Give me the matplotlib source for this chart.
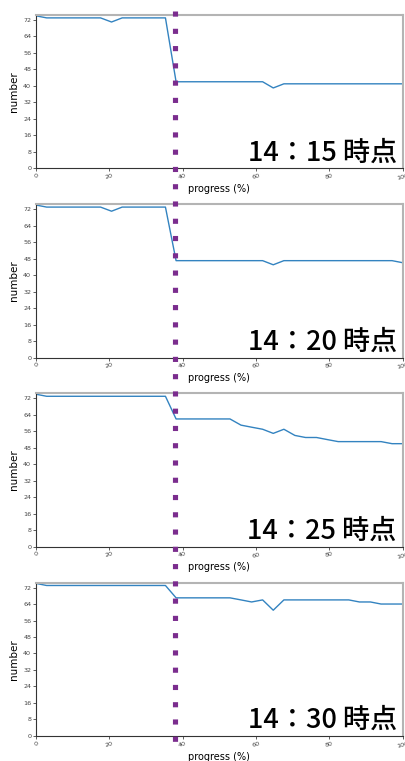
import matplotlib
matplotlib.use("Agg")
import matplotlib.pyplot as plt
from matplotlib.lines import Line2D
from matplotlib.transforms import blended_transform_factory

plt.rcParams["font.family"] = ["DejaVu Sans", "Noto Sans CJK JP"]

# progress (%) sample positions shared by every panel
progress = [0.0, 2.9, 5.9, 8.8, 11.8, 14.7, 17.6, 20.6, 23.5, 26.5, 29.4, 32.4,
            35.3, 38.2, 41.2, 44.1, 47.1, 50.0, 52.9, 55.9, 58.8, 61.8, 64.7,
            67.6, 70.6, 73.5, 76.5, 79.4, 82.4, 85.3, 88.2, 91.2, 94.1, 97.1, 100.0]

counts_1415 = [74, 73, 73, 73, 73, 73, 73, 71, 73, 73, 73, 73,
               73, 42, 42, 42, 42, 42, 42, 42, 42, 42, 39,
               41, 41, 41, 41, 41, 41, 41, 41, 41, 41, 41, 41]
counts_1420 = [74, 73, 73, 73, 73, 73, 73, 71, 73, 73, 73, 73,
               73, 47, 47, 47, 47, 47, 47, 47, 47, 47, 45,
               47, 47, 47, 47, 47, 47, 47, 47, 47, 47, 47, 46]
counts_1425 = [74, 73, 73, 73, 73, 73, 73, 73, 73, 73, 73, 73,
               73, 62, 62, 62, 62, 62, 62, 59, 58, 57, 55,
               57, 54, 53, 53, 52, 51, 51, 51, 51, 51, 50, 50]
counts_1430 = [74, 73, 73, 73, 73, 73, 73, 73, 73, 73, 73, 73,
               73, 67, 67, 67, 67, 67, 67, 66, 65, 66, 61,
               66, 66, 66, 66, 66, 66, 66, 65, 65, 64, 64, 64]

series = [counts_1415, counts_1420, counts_1425, counts_1430]
time_labels = ["14：15 時点", "14：20 時点", "14：25 時点", "14：30 時点"]
y_ticks = [0, 8, 16, 24, 32, 40, 48, 56, 64, 72]
x_ticks = [0, 20, 40, 60, 80, 100]
marker_progress = 38  # where the purple dotted line sits

W, H = 406, 761
fig = plt.figure(figsize=(W / 100, H / 100), dpi=100)

axes = []
for k, (counts, label) in enumerate(zip(series, time_labels)):
    top_px = 15 + 189.2 * k
    ax = fig.add_axes([36 / W, 1 - (top_px + 153.3) / H, 366.7 / W, 153.3 / H])
    ax.plot(progress, counts, color="#3383c0", lw=1.0)
    ax.set_xlim(0, 100)
    ax.set_ylim(0, 74.4)
    ax.set_xticks(x_ticks)
    ax.set_yticks(y_ticks)
    ax.tick_params(labelsize=4.6, length=2, width=0.6, pad=1.5, colors="#444444")
    for t in ax.get_xticklabels():
        t.set_rotation(15)
    ax.set_xlabel("progress (%)", fontsize=7, labelpad=2)
    ax.set_ylabel("number", fontsize=7.5, labelpad=3)
    for side in ("left", "bottom"):
        ax.spines[side].set_color("#333333")
        ax.spines[side].set_linewidth(0.8)
    for side in ("top", "right"):
        ax.spines[side].set_color("#b4b4b4")
        ax.spines[side].set_linewidth(1.5)
    ax.text(0.984, 0.05, label, transform=ax.transAxes, ha="right",
            va="baseline", fontsize=19.5, fontweight="medium",
            family=["Noto Sans CJK JP"], color="black")
    axes.append(ax)

# purple dotted marker running through all panels
trans = blended_transform_factory(axes[0].transData, fig.transFigure)
vline = Line2D([marker_progress, marker_progress], [1 - 10.8 / H, 1 - 752.5 / H],
               transform=trans, color="#7b2d8e", lw=3.7,
               linestyle=(0, (1, 2.36)), solid_capstyle="butt",
               dash_capstyle="butt")
fig.add_artist(vline)

fig.savefig("out.png", dpi=100)
